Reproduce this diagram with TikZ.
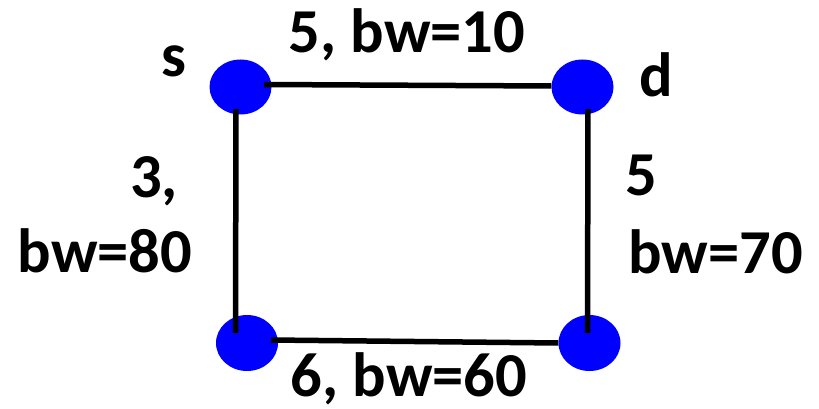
\documentclass[tikz,border=0pt]{standalone}
\usepackage{fontspec}
\setmainfont{Carlito}
\usetikzlibrary{shapes.geometric,calc}
\begin{document}
\begin{tikzpicture}[x=1pt,y=-1pt,
  vtx/.style={ellipse,fill=blue,draw=none,inner sep=0pt,minimum width=62pt,minimum height=55pt},
  lbl/.style={font=\bfseries\fontsize{62.5}{75}\selectfont,inner sep=0pt,text=black},
  link/.style={line width=5.5pt,black}]
\fill[white] (0,0) rectangle (819,409);
\useasboundingbox (0,0) rectangle (819,409);
\node[vtx] (s) at (240.5,87) {};
\node[vtx] (d) at (582.5,87) {};
\node[vtx,minimum height=56pt] (bl) at (247,343) {};
\node[vtx,minimum height=56pt] (br) at (589.5,343) {};
\draw[link] ($(s.center)+(23.5,-2.5)$) -- ($(d.west)+(0,-1)$);
\draw[link] ($(s.center)+(-4.5,22)$) -- ($(bl.center)+(-11.5,-10)$);
\draw[link] ($(d.center)+(5.5,22)$) -- ($(br.center)+(-2,-10)$);
\draw[link] ($(bl.center)+(24,-3)$) -- (br.west);
\node[lbl,anchor=base] (ltop) at (407,53) {5, bw=10};
\node[lbl,anchor=base] (lbot) at (409,396) {6, bw=60};
\node[lbl,anchor=base] (ll1) at (154,197) {3,};
\node[lbl,anchor=base] (ll2) at (105,272) {bw=80};
\node[lbl,anchor=base west] (lr1) at (625,195) {5};
\node[lbl,anchor=base] (lr2) at (715.5,273) {bw=70};
\node[lbl,anchor=base] (ls) at (174,77) {s};
\node[lbl,anchor=base] (ld) at (656,97) {d};
\end{tikzpicture}
\end{document}
